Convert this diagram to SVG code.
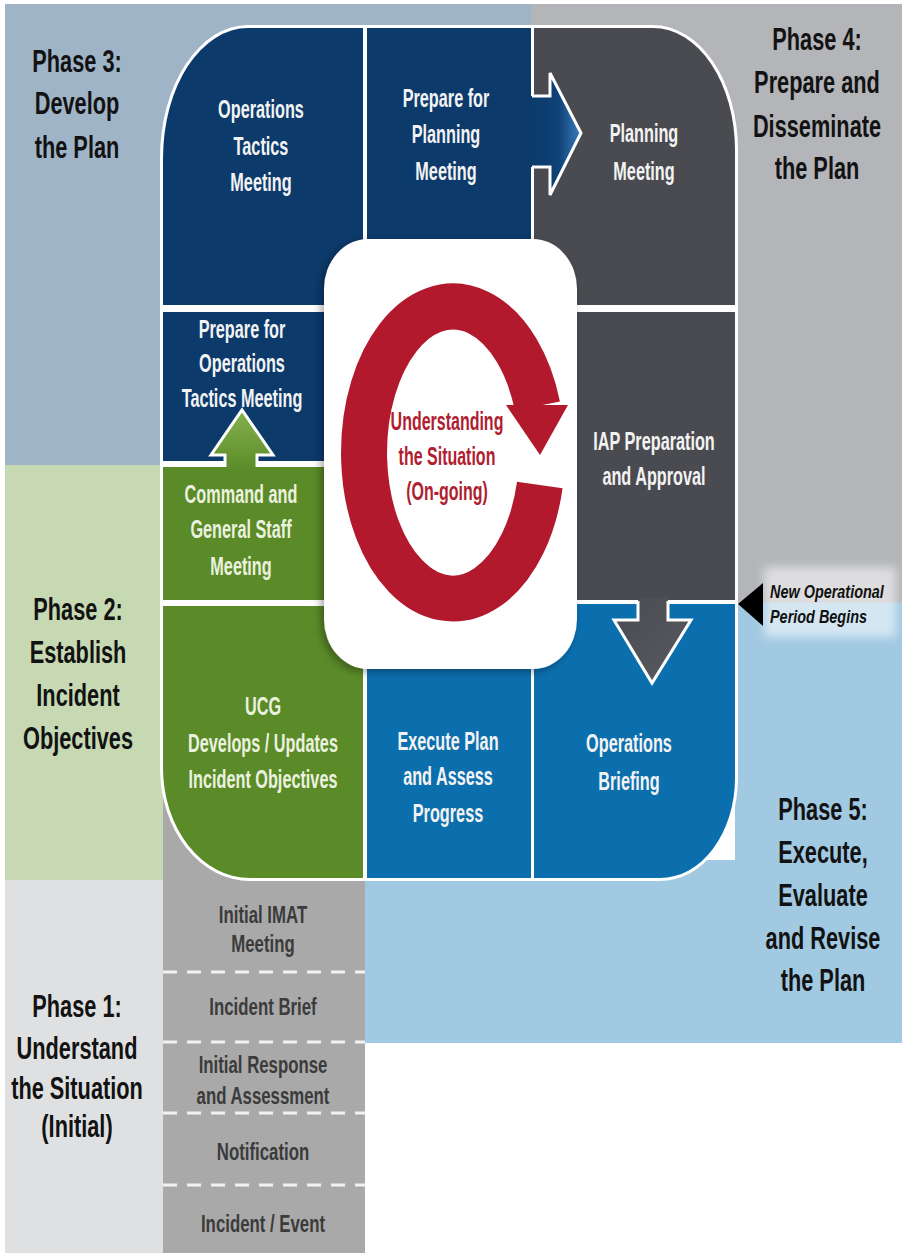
<svg xmlns="http://www.w3.org/2000/svg" width="904" height="1253" viewBox="0 0 904 1253">
<defs>
<style>
.t{font-family:"Liberation Sans",Arial,sans-serif;font-weight:700;text-anchor:middle}
.c{font-size:25px;fill:#f3f3f3}
.cg{font-size:25px;fill:#eaf2df}
.ph{font-size:32px;fill:#121212}
.gc{font-size:24px;fill:#3b3b3b}
.red{font-size:25px;fill:#b01e31}
.navy{fill:#0c3a6b}
.dgray{fill:#4a4b50}
.green{fill:#5b8b29}
.blue{fill:#0b6fae}
.dash{stroke:#f2f2f2;stroke-width:3;stroke-dasharray:14 10;fill:none}
.wl{fill:none;stroke:#ffffff;stroke-width:3;stroke-linejoin:miter}
</style>
<linearGradient id="gR" x1="0" y1="0" x2="1" y2="0">
<stop offset="0" stop-color="#0c3a6b"/><stop offset="0.55" stop-color="#0e4176"/><stop offset="1" stop-color="#3b7fbf"/>
</linearGradient>
<linearGradient id="gU" x1="0" y1="1" x2="0" y2="0">
<stop offset="0" stop-color="#5b8b29"/><stop offset="1" stop-color="#86b24e"/>
</linearGradient>
<linearGradient id="gD" x1="0" y1="0" x2="1" y2="1">
<stop offset="0" stop-color="#4a4b50"/><stop offset="0.7" stop-color="#55565b"/><stop offset="1" stop-color="#8a8b90"/>
</linearGradient>
<filter id="sh" x="-15%" y="-15%" width="130%" height="130%">
<feDropShadow dx="-3" dy="3" stdDeviation="4" flood-color="#000" flood-opacity="0.35"/>
</filter>
<filter id="glow" x="-20%" y="-30%" width="140%" height="160%">
<feGaussianBlur stdDeviation="5"/>
</filter>
</defs>

<g id="background">
<rect x="0" y="0" width="904" height="1253" fill="#ffffff"/>
<rect x="5" y="4" width="527" height="462" fill="#a0b4c8"/>
<rect x="531" y="4" width="371" height="600" fill="#b4b5b9"/>
<rect x="5" y="465" width="158" height="416" fill="#c6d9b3"/>
<rect x="735" y="603" width="167" height="440" fill="#a1c9e2"/>
<rect x="365" y="860" width="537" height="183" fill="#a1c9e2"/>
<rect x="5" y="880" width="158" height="373" fill="#dfe0e1"/>
<rect x="163" y="700" width="202" height="553" fill="#a9a9a9"/>
</g>

<g id="phase3" class="t ph">
<text transform="matrix(0.68 0 0 1 77 0)"><tspan x="0" y="72">Phase 3:</tspan><tspan x="0" y="114">Develop</tspan><tspan x="0" y="158">the Plan</tspan></text>
</g>
<g id="phase4" class="t ph">
<text transform="matrix(0.68 0 0 1 817 0)"><tspan x="0" y="50">Phase 4:</tspan><tspan x="0" y="93">Prepare and</tspan><tspan x="0" y="137">Disseminate</tspan><tspan x="0" y="179">the Plan</tspan></text>
</g>
<g id="phase2" class="t ph">
<text transform="matrix(0.68 0 0 1 78 0)"><tspan x="0" y="620">Phase 2:</tspan><tspan x="0" y="663">Establish</tspan><tspan x="0" y="706">Incident</tspan><tspan x="0" y="749">Objectives</tspan></text>
</g>
<g id="phase5" class="t ph">
<text transform="matrix(0.68 0 0 1 823 0)"><tspan x="0" y="820">Phase 5:</tspan><tspan x="0" y="863">Execute,</tspan><tspan x="0" y="906">Evaluate</tspan><tspan x="0" y="949">and Revise</tspan><tspan x="0" y="991">the Plan</tspan></text>
</g>
<g id="phase1" class="t ph">
<text transform="matrix(0.68 0 0 1 77 0)"><tspan x="0" y="1017">Phase 1:</tspan><tspan x="0" y="1059">Understand</tspan><tspan x="0" y="1099">the Situation</tspan><tspan x="0" y="1137">(Initial)</tspan></text>
</g>

<g id="initial-steps">
<line class="dash" x1="163" y1="972" x2="365" y2="972"/>
<line class="dash" x1="163" y1="1042" x2="365" y2="1042"/>
<line class="dash" x1="163" y1="1113" x2="365" y2="1113"/>
<line class="dash" x1="163" y1="1185" x2="365" y2="1185"/>
<text class="t gc" transform="matrix(0.7 0 0 1 263 0)"><tspan x="0" y="923">Initial IMAT</tspan><tspan x="0" y="952">Meeting</tspan></text>
<text class="t gc" transform="matrix(0.7 0 0 1 263 0)"><tspan x="0" y="1015">Incident Brief</tspan></text>
<text class="t gc" transform="matrix(0.7 0 0 1 263 0)"><tspan x="0" y="1073">Initial Response</tspan><tspan x="0" y="1104">and Assessment</tspan></text>
<text class="t gc" transform="matrix(0.7 0 0 1 263 0)"><tspan x="0" y="1160">Notification</tspan></text>
<text class="t gc" transform="matrix(0.7 0 0 1 263 0)"><tspan x="0" y="1232">Incident / Event</tspan></text>
</g>

<g id="outline">
<path d="M160,158 A88,133 0 0 1 248,25 L653,25 A85,125 0 0 1 738,150 L738,778 A78,103 0 0 1 660,881 L250,881 A90,113 0 0 1 160,768 Z" fill="#ffffff"/>
</g>

<g id="ops-tactics">
<path class="navy" d="M163,305 L163,158 A85,130 0 0 1 248,28 L363,28 L363,305 Z"/>
<text class="t c" transform="matrix(0.65 0 0 1 261 0)"><tspan x="0" y="118">Operations</tspan><tspan x="0" y="155">Tactics</tspan><tspan x="0" y="191">Meeting</tspan></text>
</g>
<g id="prepare-planning">
<rect class="navy" x="367" y="28" width="164" height="277"/>
<text class="t c" transform="matrix(0.65 0 0 1 446 0)"><tspan x="0" y="107">Prepare for</tspan><tspan x="0" y="143">Planning</tspan><tspan x="0" y="180">Meeting</tspan></text>
</g>
<g id="planning">
<path class="dgray" d="M534,28 L653,28 A82,122 0 0 1 735,150 L735,305 L534,305 Z"/>
<text class="t c" transform="matrix(0.65 0 0 1 644 0)"><tspan x="0" y="142">Planning</tspan><tspan x="0" y="180">Meeting</tspan></text>
</g>
<g id="prepare-ops">
<rect class="navy" x="163" y="312" width="200" height="149"/>
<text class="t c" transform="matrix(0.65 0 0 1 242 0)"><tspan x="0" y="338">Prepare for</tspan><tspan x="0" y="372">Operations</tspan><tspan x="0" y="407">Tactics Meeting</tspan></text>
</g>
<g id="command">
<rect class="green" x="163" y="467" width="200" height="133"/>
<text class="t cg" transform="matrix(0.65 0 0 1 241 0)"><tspan x="0" y="503">Command and</tspan><tspan x="0" y="538">General Staff</tspan><tspan x="0" y="575">Meeting</tspan></text>
</g>
<g id="ucg">
<path class="green" d="M163,606 L363,606 L363,878 L250,878 A87,110 0 0 1 163,768 Z"/>
<text class="t cg" transform="matrix(0.65 0 0 1 263 0)"><tspan x="0" y="715">UCG</tspan><tspan x="0" y="752">Develops / Updates</tspan><tspan x="0" y="788">Incident Objectives</tspan></text>
</g>
<g id="execute">
<rect class="blue" x="367" y="606" width="164" height="272"/>
<text class="t c" transform="matrix(0.65 0 0 1 448 0)"><tspan x="0" y="750">Execute Plan</tspan><tspan x="0" y="785">and Assess</tspan><tspan x="0" y="822">Progress</tspan></text>
</g>
<g id="iap">
<rect class="dgray" x="534" y="312" width="201" height="288"/>
<text class="t c" transform="matrix(0.65 0 0 1 654 0)"><tspan x="0" y="450">IAP Preparation</tspan><tspan x="0" y="485">and Approval</tspan></text>
</g>
<g id="ops-briefing">
<path class="blue" d="M534,604 L735,604 L735,778 A75,100 0 0 1 660,878 L534,878 Z"/>
<text class="t c" transform="matrix(0.65 0 0 1 629 0)"><tspan x="0" y="752">Operations</tspan><tspan x="0" y="790">Briefing</tspan></text>
</g>

<g id="understanding">
<rect x="324" y="239" width="253" height="430" rx="44" ry="50" fill="#ffffff" filter="url(#sh)"/>
<text class="t red" transform="matrix(0.64 0 0 1 447 0)"><tspan x="0" y="430">Understanding</tspan><tspan x="0" y="465">the Situation</tspan><tspan x="0" y="500">(On-going)</tspan></text>
</g>

<g id="connectors">
<path d="M539.8,485 A89,146 0 1 1 537.4,406" fill="none" stroke="#b2192d" stroke-width="46"/>
<polygon points="506,405 568,405 540,455" fill="#b2192d"/>
<polygon points="531,96 550,96 550,73 581,133 550,195 550,167 531,167" fill="url(#gR)"/>
<polyline class="wl" points="532,96 550,96 550,73 581,133 550,195 550,167 532,167"/>
<polygon points="225,470 225,455 211,455 242,410 273,455 257,455 257,470" fill="url(#gU)"/>
<polyline class="wl" points="225,467 225,455 211,455 242,410 273,455 257,455 257,467"/>
<polygon points="638,598 638,620 614,620 652,683 691,620 668,620 668,598" fill="url(#gD)"/>
<polyline class="wl" points="638,601 638,620 614,620 652,683 691,620 668,620 668,601"/>
</g>

<g id="new-period">
<rect x="764" y="567" width="132" height="70" fill="#ffffff" opacity="0.55" filter="url(#glow)"/>
<polygon points="738,604 763,583 763,626" fill="#000000"/>
<text class="t" style="font-size:19px;font-style:italic;fill:#111;text-anchor:start" transform="matrix(0.76 0 0 1 770 0)"><tspan x="0" y="598">New Operational</tspan><tspan x="0" y="623">Period Begins</tspan></text>
</g>
</svg>
